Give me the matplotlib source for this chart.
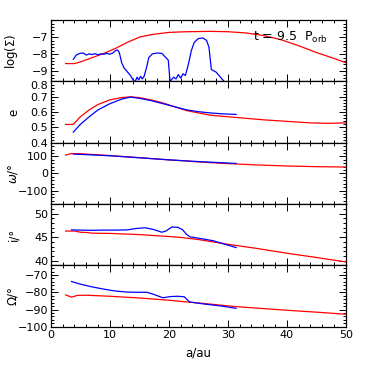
import matplotlib
matplotlib.use('Agg')
import matplotlib.pyplot as plt
import matplotlib.transforms as mtransforms
from matplotlib.ticker import MultipleLocator, FixedLocator

# surface density
sig_red_a = [2.5, 4, 5, 7, 9, 11, 13, 15, 17, 20, 23, 27, 30, 33, 36, 39, 42, 45, 48, 50]
sig_red = [-8.55, -8.55, -8.45, -8.2, -7.95, -7.65, -7.3, -7.0, -6.85, -6.72, -6.68, -6.66,
           -6.68, -6.75, -6.9, -7.15, -7.5, -7.9, -8.25, -8.5]
sig_blue_a = [3.8, 4.3, 4.9, 5.5, 6.0, 6.5, 7.0, 7.5, 8.0, 8.5, 9.0, 9.5, 10.0, 10.5, 11.0,
              11.3, 11.6, 12.0, 12.4, 13.0, 13.5, 14.0, 14.3, 14.6, 14.9, 15.2, 15.5, 15.8,
              16.2, 16.6, 17.2, 18.0, 18.8, 19.5, 19.9, 20.2, 20.8, 21.2, 21.6, 22.0, 22.4,
              22.8, 23.3, 23.8, 24.3, 25.0, 25.8, 26.4, 26.8, 27.2, 28.0, 29.5]
sig_blue = [-8.3, -8.05, -7.95, -7.93, -8.05, -7.98, -8.02, -7.97, -8.03, -7.98, -8.0, -7.95,
            -8.0, -7.93, -7.78, -7.75, -7.9, -8.5, -8.8, -9.05, -9.25, -9.55, -9.6, -9.35,
            -9.5, -9.3, -9.45, -9.3, -8.8, -8.2, -7.98, -7.93, -7.95, -8.2, -8.35, -9.6,
            -9.35, -9.45, -9.2, -9.4, -9.15, -9.25, -8.6, -7.8, -7.3, -7.08, -7.05, -7.2,
            -7.6, -8.9, -9.05, -9.65]

# eccentricity
e_red_a = [2.5, 3.8, 5, 6.5, 8, 10, 12, 13.5, 15, 17, 19, 21, 23, 25, 27, 30, 33, 36, 40, 44, 47, 50]
e_red = [0.52, 0.52, 0.57, 0.615, 0.65, 0.68, 0.695, 0.70, 0.695, 0.68, 0.66, 0.635, 0.61,
         0.595, 0.58, 0.57, 0.56, 0.55, 0.54, 0.53, 0.527, 0.53]
e_blue_a = [3.8, 5, 6.5, 8, 10, 12, 13.5, 15, 17, 19, 21, 23, 25, 27, 29, 31.4]
e_blue = [0.47, 0.52, 0.57, 0.615, 0.655, 0.685, 0.698, 0.69, 0.675, 0.655, 0.635, 0.615,
          0.603, 0.595, 0.589, 0.585]

# argument of pericentre
w_red_a = [2.5, 3.5, 5, 10, 15, 20, 25, 30, 35, 40, 45, 50]
w_red = [108, 117, 116, 105, 93, 80, 68, 58, 50, 44, 40, 38]
w_blue_a = [3.8, 10, 15, 20, 25, 31.4]
w_blue = [114, 104, 92, 80, 70, 59]

# inclination
i_red_a = [2.5, 4, 5, 6, 7, 10, 15, 18, 20, 22, 25, 30, 35, 40, 45, 50]
i_red = [46.3, 46.3, 46.05, 46.0, 45.85, 45.8, 45.55, 45.3, 45.15, 44.95, 44.5, 43.5,
         42.6, 41.6, 40.7, 39.75]
i_blue_a = [3.5, 5, 7, 9, 11, 13, 14.5, 16, 17.5, 18.8, 19.5, 20.5, 21.5, 22.3, 23.0, 23.6,
            25, 27.5, 29.5, 31.4]
i_blue = [46.55, 46.5, 46.45, 46.5, 46.5, 46.55, 46.85, 47.0, 46.6, 46.05, 46.3, 47.15,
          47.1, 46.6, 45.6, 45.05, 44.8, 44.25, 43.5, 42.8]

# longitude of ascending node
O_red_a = [2.5, 3.5, 4.5, 6, 10, 15, 20, 22.4, 26, 31, 35, 40, 45, 50]
O_red = [-81.5, -82.8, -81.8, -81.7, -82.3, -83.3, -84.6, -85.4, -86.5, -88.2, -89.2,
         -90.4, -91.5, -92.7]
O_blue_a = [3.5, 5, 7, 9, 11, 13, 15, 16.3, 17.5, 19, 20.2, 21.5, 22.6, 23.5, 26, 29, 31.4]
O_blue = [-73.8, -75.3, -76.9, -78.2, -79.3, -79.9, -80.0, -80.0, -81.3, -83.2, -82.5,
          -82.3, -82.6, -85.6, -86.8, -88.0, -89.3]

panels = [
    (sig_red_a, sig_red, sig_blue_a, sig_blue, r'log($\Sigma$)', (-9.6, -6.0), [-9, -8, -7], 0.2),
    (e_red_a, e_red, e_blue_a, e_blue, 'e', (0.4, 0.8), [0.4, 0.5, 0.6, 0.7, 0.8], 0.02),
    (w_red_a, w_red, w_blue_a, w_blue, r'$\omega$/°', (-180, 180), [-100, 0, 100], 20),
    (i_red_a, i_red, i_blue_a, i_blue, 'i/°', (39, 52), [40, 45, 50], 1),
    (O_red_a, O_red, O_blue_a, O_blue, r'$\Omega$/°', (-100, -64.5), [-100, -90, -80, -70], 2),
]

plt.rcParams['font.family'] = 'DejaVu Sans'
plt.rcParams['mathtext.fontset'] = 'dejavusans'

fig, axes = plt.subplots(5, 1, figsize=(3.66, 3.66), dpi=100, sharex=True)
fig.subplots_adjust(left=0.139, right=0.945, bottom=0.107, top=0.945, hspace=0)

for ax, (ra, rv, ba, bv, label, lim, major, minor) in zip(axes, panels):
    ax.plot(ra, rv, color='red', lw=0.9)
    ax.plot(ba, bv, color='blue', lw=0.9)
    ax.set_ylim(*lim)
    ax.set_xlim(0, 50)
    ax.yaxis.set_major_locator(FixedLocator(major))
    ax.yaxis.set_minor_locator(MultipleLocator(minor))
    ax.xaxis.set_major_locator(MultipleLocator(10))
    ax.xaxis.set_minor_locator(MultipleLocator(2))
    ax.tick_params(which='both', direction='in', top=True, right=True, labelsize=8,
                   width=0.7, pad=2)
    ax.tick_params(which='major', length=5)
    ax.tick_params(which='minor', length=2.5)
    for s in ax.spines.values():
        s.set_linewidth(0.9)
    ax.set_ylabel(label, fontsize=8.5)
    ax.yaxis.set_label_coords(-0.105, 0.5)

# nudge the 0.8 label down a little so it clears the -9 above it
shift = mtransforms.ScaledTranslation(0, -2.5 / 72, fig.dpi_scale_trans)
top_tick = axes[1].yaxis.get_major_ticks()[-1]
top_tick.label1.set_transform(top_tick.label1.get_transform() + shift)

axes[0].text(0.685, 0.72, r't = 9.5  P$_{\rm orb}$', transform=axes[0].transAxes,
             fontsize=9, va='center', ha='left')
axes[-1].set_xlabel('a/au', fontsize=8.5, labelpad=5)

fig.savefig('out.png', dpi=100)
